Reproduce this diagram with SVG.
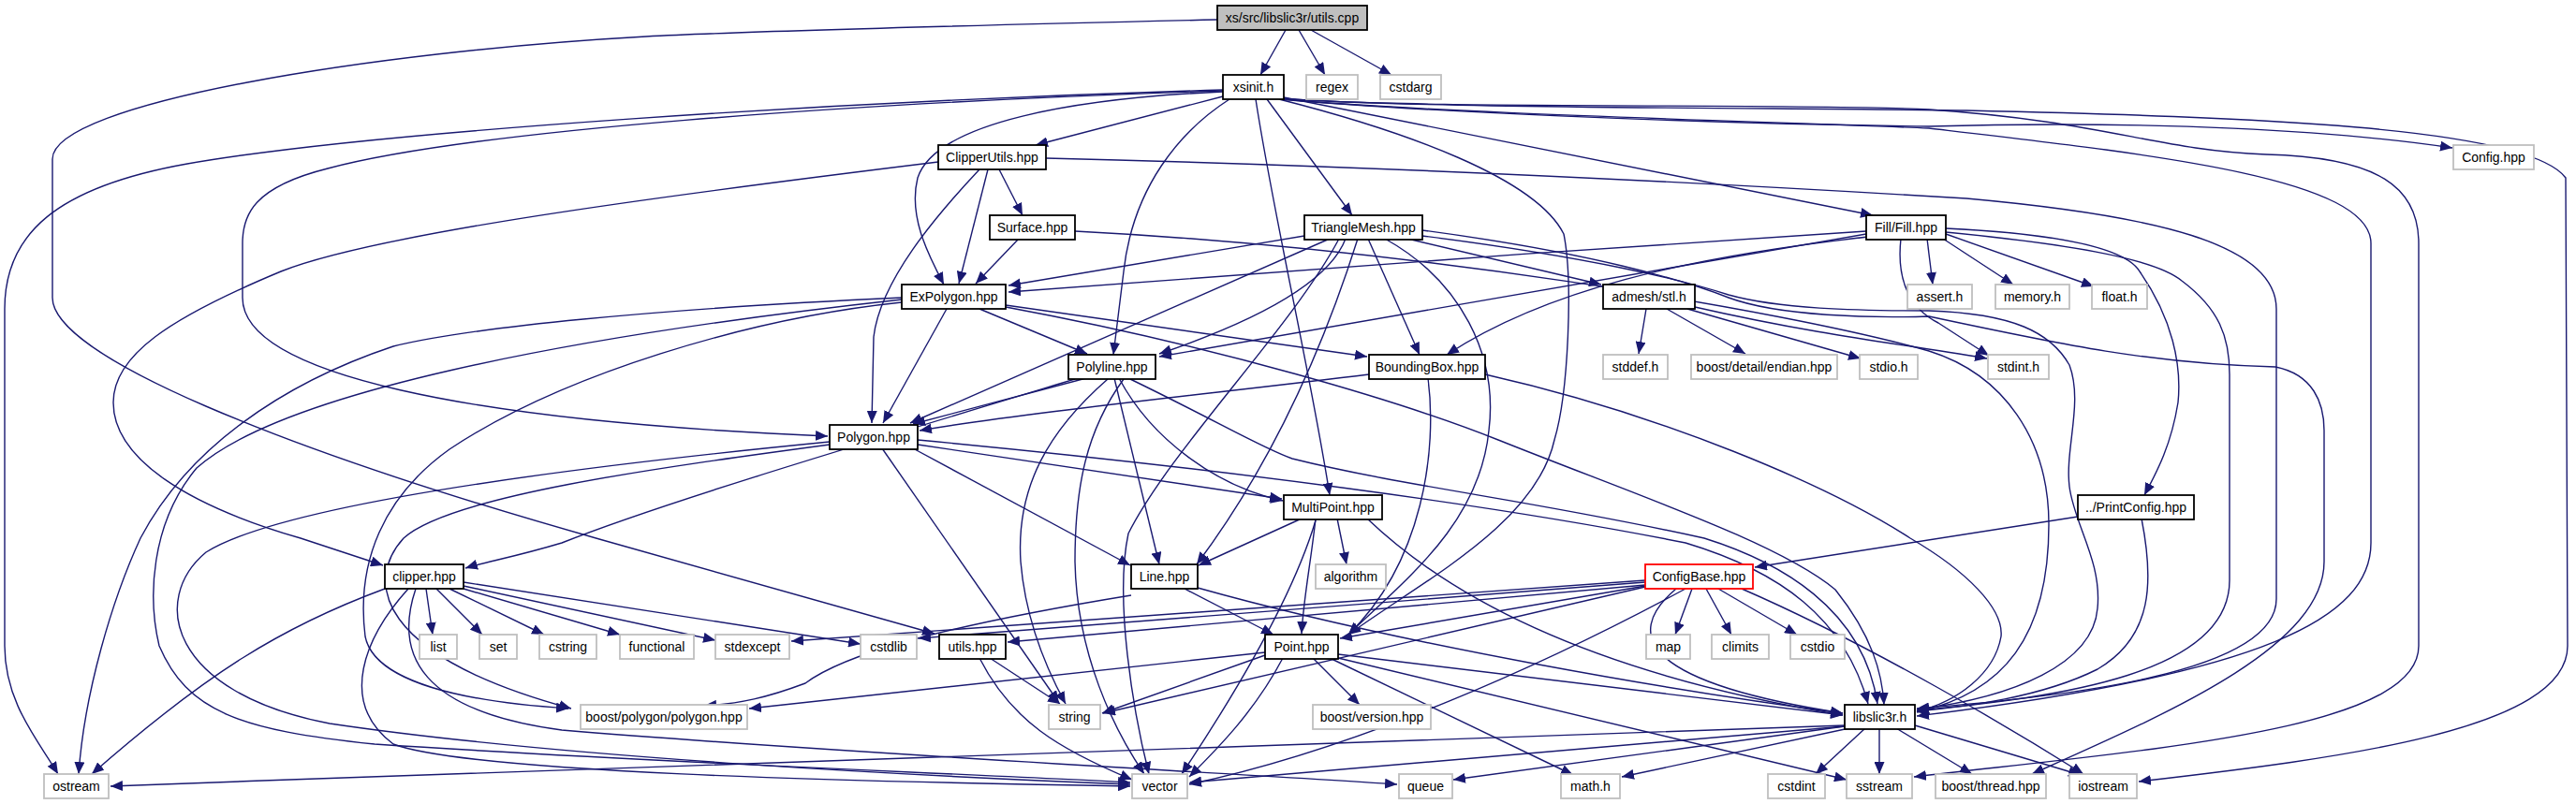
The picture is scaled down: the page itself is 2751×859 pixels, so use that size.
<svg xmlns="http://www.w3.org/2000/svg" width="2751" height="859" viewBox="0 0 2751 859">
<defs>
<marker id="a" markerWidth="14" markerHeight="11" refX="13" refY="5.5" orient="auto" markerUnits="userSpaceOnUse"><path d="M0,0 L13,5.5 L0,11 z" fill="#191970"/></marker>
<style>
.e path{fill:none;stroke:#191970;stroke-width:1.4;marker-end:url(#a)}
.n rect{fill:#fff;stroke:#000;stroke-width:1.8}
.g rect{fill:#fff;stroke:#bfbfbf;stroke-width:1.8}
.r rect{fill:#bfbfbf;stroke:#000;stroke-width:1.8}
.c rect{fill:#fff;stroke:#ff0000;stroke-width:1.8}
text{font-family:"Liberation Sans",Arial,sans-serif;font-size:14px;text-anchor:middle;fill:#000}
</style>
</defs>
<rect width="2751" height="859" fill="#fff"/>
<g id="edges" class="e">
<path d="M1373,32 L1346,80"/>
<path d="M1387,32 L1415,80"/>
<path d="M1400,32 L1486,80"/>
<path d="M1300,21 C1000,28 800,33 690,39 C400,55 56,110 56,170 L56,318 C56,380 300,480 640,576 C800,620 900,650 998,677"/>
<path d="M1306,103 L1106,155"/>
<path d="M1306,98 C1150,105 1000,130 980,190 C970,230 990,270 1008,304"/>
<path d="M1313,106 C1260,140 1210,200 1200,290 L1189,379"/>
<path d="M1353,106 L1444,230"/>
<path d="M1371,104 L2000,230"/>
<path d="M1341,106 C1360,230 1400,400 1420,529"/>
<path d="M1366,106 C1500,140 1640,190 1670,250 C1680,300 1675,420 1660,470 C1640,560 1520,620 1440,678"/>
<path d="M1368,106 C1500,118 1800,132 2060,135 C2300,128 2500,140 2619,158"/>
<path d="M1368,105 C1500,116 1900,115 2100,118 C2400,125 2700,135 2740,190 L2742,690 C2742,780 2500,810 2284,835"/>
<path d="M1368,105 C1500,117 1950,110 2060,117 C2250,130 2300,160 2420,165 C2540,168 2583,200 2583,260 L2583,690 C2583,780 2300,800 2044,830"/>
<path d="M1368,106 C1550,122 1900,130 2060,137 C2300,165 2532,190 2532,260 L2532,580 C2532,660 2420,720 2047,765"/>
<path d="M1306,96 C900,108 400,140 200,175 C60,200 5,250 5,330 L5,690 C5,750 40,790 62,827"/>
<path d="M1306,97 C900,110 500,140 350,180 C270,200 259,230 259,260 L259,318 C259,400 500,450 884,466"/>
<path d="M1002,173 C700,210 400,250 300,290 C180,340 121,380 121,430 C121,490 200,540 321,575 L409,604"/>
<path d="M1046,181 C1000,230 940,300 933,360 L931,452"/>
<path d="M1055,181 L1024,303"/>
<path d="M1067,181 L1092,230"/>
<path d="M1117,169 C1500,178 1900,200 2100,212 C2300,230 2431,260 2431,330 L2431,640 C2431,720 2200,745 2047,757"/>
<path d="M1088,255 L1042,303"/>
<path d="M1148,247 C1500,265 1900,330 2060,375 C2140,400 2188,470 2188,560 C2188,680 2140,740 2047,761"/>
<path d="M1519,252 C1700,275 1800,300 1846,315 C1900,330 1980,332 2060,332 C2150,335 2190,355 2210,390 C2225,430 2205,480 2210,520 C2215,560 2245,600 2240,650 C2235,710 2150,745 2047,758"/>
<path d="M1393,252 L1077,305"/>
<path d="M1420,255 L972,452"/>
<path d="M1437,255 C1420,300 1350,340 1238,378"/>
<path d="M1461,255 L1516,379"/>
<path d="M1479,255 C1560,300 1600,380 1590,460 C1580,560 1500,620 1440,678"/>
<path d="M1503,255 L1710,304"/>
<path d="M1519,246 C1700,270 1800,300 1846,318 C1900,338 2000,340 2060,338 C2200,368 2300,389 2430,392 C2470,400 2482,430 2482,460 L2482,600 C2482,690 2320,760 2170,827"/>
<path d="M1430,255 C1380,350 1250,480 1205,570 C1190,640 1210,760 1227,827"/>
<path d="M1450,255 C1420,350 1370,480 1278,603"/>
<path d="M1993,247 C1700,265 1300,295 1077,312"/>
<path d="M1993,250 L1238,381"/>
<path d="M1995,253 C1800,275 1650,310 1545,379"/>
<path d="M2058,255 L2064,304"/>
<path d="M2075,255 L2150,304"/>
<path d="M2078,250 L2236,306"/>
<path d="M2030,255 C2025,300 2040,330 2070,345 L2124,380"/>
<path d="M2078,244 C2200,250 2270,265 2285,290 C2320,340 2330,390 2326,430 C2318,480 2300,510 2290,529"/>
<path d="M2078,248 C2200,260 2300,275 2330,300 C2370,330 2381,360 2381,400 L2381,620 C2381,720 2200,745 2047,759"/>
<path d="M1046,330 L1161,378"/>
<path d="M1011,330 L943,452"/>
<path d="M1074,326 L1460,381"/>
<path d="M1074,328 C1300,370 1500,430 1600,470 C1750,530 1900,580 1960,630 C2000,680 2010,720 2012,753"/>
<path d="M963,318 C700,330 500,350 420,370 C300,410 200,480 150,575 C120,640 90,740 84,827"/>
<path d="M963,320 C600,360 300,420 210,500 C160,560 158,640 170,690 C200,760 255,780 400,795 C700,815 1000,825 1207,836"/>
<path d="M963,323 C800,340 600,400 480,480 C410,530 380,600 390,680 C400,730 500,750 607,757"/>
<path d="M1160,404 L975,453"/>
<path d="M1148,405 C900,480 700,540 600,580 C550,595 520,600 497,607"/>
<path d="M1195,404 C1230,470 1300,520 1370,535"/>
<path d="M1190,404 L1238,603"/>
<path d="M1183,405 C1120,460 1085,520 1090,600 C1095,660 1115,710 1138,752"/>
<path d="M1200,405 C1160,460 1148,520 1148,600 C1150,700 1190,780 1222,827"/>
<path d="M1207,405 C1300,450 1350,480 1380,490 C1500,520 1640,535 1820,575 C1900,600 1990,650 2005,752"/>
<path d="M975,479 L1207,604"/>
<path d="M980,475 L1369,533"/>
<path d="M942,479 L1131,751"/>
<path d="M980,470 C1300,500 1600,540 1800,580 C1900,610 1970,660 1995,752"/>
<path d="M886,475 C700,500 480,530 431,575 C390,620 400,700 610,757"/>
<path d="M886,472 C600,500 300,540 220,590 C160,640 180,740 352,773 C600,810 1000,830 1207,838"/>
<path d="M1390,554 L1280,604"/>
<path d="M1428,554 L1438,603"/>
<path d="M1405,554 C1400,600 1392,640 1390,677"/>
<path d="M1460,554 C1550,640 1700,720 1968,764"/>
<path d="M1405,556 C1380,640 1320,740 1262,827"/>
<path d="M2219,552 L1874,606"/>
<path d="M2287,554 C2300,620 2300,680 2240,715 C2180,745 2100,755 2047,760"/>
<path d="M455,629 L462,678"/>
<path d="M466,629 L515,678"/>
<path d="M480,629 L581,678"/>
<path d="M495,629 L662,678"/>
<path d="M495,626 L764,684"/>
<path d="M495,622 L919,688"/>
<path d="M411,629 C300,670 220,720 98,827"/>
<path d="M436,629 C390,680 360,750 420,795 C500,825 900,835 1207,840"/>
<path d="M444,629 C420,700 450,760 600,780 C900,805 1300,825 1492,838"/>
<path d="M1265,629 L1360,678"/>
<path d="M1208,636 C1000,670 900,700 860,730 C820,745 790,752 752,754"/>
<path d="M1279,628 C1500,690 1800,740 1968,762"/>
<path d="M1057,703 L1132,752"/>
<path d="M1046,703 C1080,770 1130,800 1209,833"/>
<path d="M1351,700 L1177,762"/>
<path d="M1351,697 L800,757"/>
<path d="M1402,703 L1452,753"/>
<path d="M1429,699 L1968,764"/>
<path d="M1370,703 C1340,760 1300,800 1270,830"/>
<path d="M1420,703 L1680,828"/>
<path d="M1429,703 L1972,833"/>
<path d="M1807,629 L1789,678"/>
<path d="M1822,629 L1849,678"/>
<path d="M1835,629 L1919,678"/>
<path d="M1790,629 C1730,680 1760,730 1968,762"/>
<path d="M1757,626 L1431,682"/>
<path d="M1757,627 L1178,762"/>
<path d="M1757,620 L845,685"/>
<path d="M1757,622 L981,682"/>
<path d="M1757,625 L1076,686"/>
<path d="M1800,629 C1650,710 1450,800 1270,838"/>
<path d="M1860,629 C2000,690 2150,780 2225,827"/>
<path d="M1586,400 C1776,443 1952,518 2040,575 C2100,610 2140,650 2137,680 C2130,720 2090,750 2047,760"/>
<path d="M1525,404 C1535,480 1520,600 1440,678"/>
<path d="M1462,400 C1300,420 1100,440 982,460"/>
<path d="M1758,330 L1750,378"/>
<path d="M1780,330 L1864,378"/>
<path d="M1802,330 L1987,383"/>
<path d="M1810,328 C1950,360 2050,370 2122,383"/>
<path d="M1970,775 C1500,790 800,815 118,840"/>
<path d="M1970,776 L1270,836"/>
<path d="M1970,776 L1552,833"/>
<path d="M1975,778 L1732,830"/>
<path d="M1992,778 L1939,827"/>
<path d="M2007,778 L2007,827"/>
<path d="M2025,778 L2106,827"/>
<path d="M2045,775 L2222,828"/>
</g>
<g id="n_utils_cpp" class="r"><rect x="1300" y="6" width="160" height="26"/><text x="1380" y="24">xs/src/libslic3r/utils.cpp</text></g>
<g id="n_xsinit" class="n"><rect x="1306" y="80" width="65" height="26"/><text x="1338.5" y="98">xsinit.h</text></g>
<g id="n_regex" class="g"><rect x="1395" y="80" width="55" height="26"/><text x="1422.5" y="98">regex</text></g>
<g id="n_cstdarg" class="g"><rect x="1474" y="80" width="65" height="26"/><text x="1506.5" y="98">cstdarg</text></g>
<g id="n_clipperutils" class="n"><rect x="1002" y="155" width="115" height="26"/><text x="1059.5" y="173">ClipperUtils.hpp</text></g>
<g id="n_config" class="g"><rect x="2620" y="155" width="86" height="26"/><text x="2663" y="173">Config.hpp</text></g>
<g id="n_surface" class="n"><rect x="1057" y="230" width="91" height="26"/><text x="1102.5" y="248">Surface.hpp</text></g>
<g id="n_trianglemesh" class="n"><rect x="1393" y="230" width="126" height="26"/><text x="1456" y="248">TriangleMesh.hpp</text></g>
<g id="n_fill" class="n"><rect x="1993" y="230" width="85" height="26"/><text x="2035.5" y="248">Fill/Fill.hpp</text></g>
<g id="n_expolygon" class="n"><rect x="963" y="304" width="111" height="26"/><text x="1018.5" y="322">ExPolygon.hpp</text></g>
<g id="n_admesh" class="n"><rect x="1712" y="304" width="98" height="26"/><text x="1761" y="322">admesh/stl.h</text></g>
<g id="n_assert" class="g"><rect x="2037" y="304" width="69" height="26"/><text x="2071.5" y="322">assert.h</text></g>
<g id="n_memory" class="g"><rect x="2131" y="304" width="79" height="26"/><text x="2170.5" y="322">memory.h</text></g>
<g id="n_float" class="g"><rect x="2234" y="304" width="59" height="26"/><text x="2263.5" y="322">float.h</text></g>
<g id="n_polyline" class="n"><rect x="1141" y="379" width="93" height="26"/><text x="1187.5" y="397">Polyline.hpp</text></g>
<g id="n_boundingbox" class="n"><rect x="1462" y="379" width="124" height="26"/><text x="1524" y="397">BoundingBox.hpp</text></g>
<g id="n_stddef" class="g"><rect x="1712" y="379" width="69" height="26"/><text x="1746.5" y="397">stddef.h</text></g>
<g id="n_endian" class="g"><rect x="1806" y="379" width="156" height="26"/><text x="1884" y="397">boost/detail/endian.hpp</text></g>
<g id="n_stdio" class="g"><rect x="1986" y="379" width="62" height="26"/><text x="2017" y="397">stdio.h</text></g>
<g id="n_stdint" class="g"><rect x="2123" y="379" width="65" height="26"/><text x="2155.5" y="397">stdint.h</text></g>
<g id="n_polygon" class="n"><rect x="886" y="454" width="94" height="26"/><text x="933" y="472">Polygon.hpp</text></g>
<g id="n_multipoint" class="n"><rect x="1371" y="529" width="105" height="26"/><text x="1423.5" y="547">MultiPoint.hpp</text></g>
<g id="n_printconfig" class="n"><rect x="2219" y="529" width="124" height="26"/><text x="2281" y="547">../PrintConfig.hpp</text></g>
<g id="n_clipper" class="n"><rect x="411" y="603" width="84" height="26"/><text x="453" y="621">clipper.hpp</text></g>
<g id="n_line" class="n"><rect x="1208" y="603" width="71" height="26"/><text x="1243.5" y="621">Line.hpp</text></g>
<g id="n_algorithm" class="g"><rect x="1405" y="603" width="75" height="26"/><text x="1442.5" y="621">algorithm</text></g>
<g id="n_configbase" class="c"><rect x="1757" y="603" width="115" height="26"/><text x="1814.5" y="621">ConfigBase.hpp</text></g>
<g id="n_list" class="g"><rect x="448" y="678" width="40" height="26"/><text x="468" y="696">list</text></g>
<g id="n_set" class="g"><rect x="512" y="678" width="40" height="26"/><text x="532" y="696">set</text></g>
<g id="n_cstring" class="g"><rect x="576" y="678" width="61" height="26"/><text x="606.5" y="696">cstring</text></g>
<g id="n_functional" class="g"><rect x="662" y="678" width="79" height="26"/><text x="701.5" y="696">functional</text></g>
<g id="n_stdexcept" class="g"><rect x="764" y="678" width="79" height="26"/><text x="803.5" y="696">stdexcept</text></g>
<g id="n_cstdlib" class="g"><rect x="919" y="678" width="60" height="26"/><text x="949" y="696">cstdlib</text></g>
<g id="n_utils_hpp" class="n"><rect x="1003" y="678" width="71" height="26"/><text x="1038.5" y="696">utils.hpp</text></g>
<g id="n_point" class="n"><rect x="1351" y="678" width="78" height="26"/><text x="1390" y="696">Point.hpp</text></g>
<g id="n_map" class="g"><rect x="1758" y="678" width="47" height="26"/><text x="1781.5" y="696">map</text></g>
<g id="n_climits" class="g"><rect x="1828" y="678" width="61" height="26"/><text x="1858.5" y="696">climits</text></g>
<g id="n_cstdio" class="g"><rect x="1912" y="678" width="58" height="26"/><text x="1941" y="696">cstdio</text></g>
<g id="n_boost_polygon" class="g"><rect x="620" y="753" width="178" height="26"/><text x="709" y="771">boost/polygon/polygon.hpp</text></g>
<g id="n_string" class="g"><rect x="1120" y="753" width="55" height="26"/><text x="1147.5" y="771">string</text></g>
<g id="n_boost_version" class="g"><rect x="1402" y="753" width="126" height="26"/><text x="1465" y="771">boost/version.hpp</text></g>
<g id="n_libslic3r" class="n"><rect x="1970" y="753" width="75" height="26"/><text x="2007.5" y="771">libslic3r.h</text></g>
<g id="n_ostream" class="g"><rect x="47" y="827" width="69" height="26"/><text x="81.5" y="845">ostream</text></g>
<g id="n_vector" class="g"><rect x="1209" y="827" width="59" height="26"/><text x="1238.5" y="845">vector</text></g>
<g id="n_queue" class="g"><rect x="1494" y="827" width="57" height="26"/><text x="1522.5" y="845">queue</text></g>
<g id="n_math" class="g"><rect x="1667" y="827" width="63" height="26"/><text x="1698.5" y="845">math.h</text></g>
<g id="n_cstdint" class="g"><rect x="1888" y="827" width="61" height="26"/><text x="1918.5" y="845">cstdint</text></g>
<g id="n_sstream" class="g"><rect x="1972" y="827" width="70" height="26"/><text x="2007" y="845">sstream</text></g>
<g id="n_boost_thread" class="g"><rect x="2067" y="827" width="118" height="26"/><text x="2126" y="845">boost/thread.hpp</text></g>
<g id="n_iostream" class="g"><rect x="2210" y="827" width="72" height="26"/><text x="2246" y="845">iostream</text></g>
</svg>
